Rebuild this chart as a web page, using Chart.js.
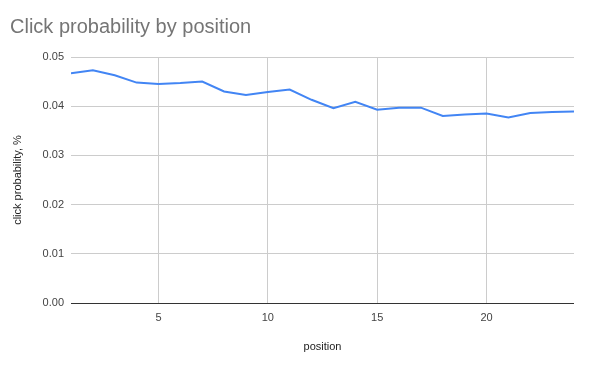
<!DOCTYPE html>
<html>
<head>
<meta charset="utf-8">
<script src="https://cdn.jsdelivr.net/npm/chart.js@4"></script>
<style>
  html, body { margin: 0; padding: 0; background: #fff; }
  #wrap { width: 591px; height: 368px; }
</style>
</head>
<body>
<div id="wrap"><canvas id="clickChart" width="591" height="368"></canvas></div>
<script>
  // data
  const positions = [1, 2, 3, 4, 5, 6, 7, 8, 9, 10, 11, 12, 13, 14, 15, 16, 17, 18, 19, 20, 21, 22, 23, 24];
  const clickProb = [
    0.0467, 0.0473, 0.0463, 0.0448, 0.0445, 0.0447, 0.0450, 0.0430, 0.0423, 0.0429, 0.0434, 0.0413,
    0.0396, 0.0409, 0.0393, 0.0397, 0.0397, 0.0380, 0.0383, 0.0385, 0.0377, 0.0386, 0.0388, 0.0389,
  ];
  const xTicks = [5, 10, 15, 20];
  const yTicks = [0, 0.01, 0.02, 0.03, 0.04, 0.05];

  const font = "'Liberation Sans', Arial, sans-serif";

  const data = {
    datasets: [{
      data: positions.map((p, i) => ({ x: p, y: clickProb[i] })),
      borderColor: "#4285F4",
      backgroundColor: "#4285F4",
      borderWidth: 2,
      pointRadius: 0,
      tension: 0,
      fill: false,
    }]
  };

  const config = {
    type: 'line',
    data,
    options: {
      responsive: false,
      animation: false,
      layout: { padding: { left: 10, right: 17, top: 0, bottom: 0 } },
      plugins: {
        legend: { display: false },
        tooltip: { enabled: false },
        title: {
          display: true,
          text: "Click probability by position",
          align: 'start',
          color: "#757575",
          font: { family: font, size: 20, weight: 'normal', lineHeight: 1.2 },
          padding: { top: 15, bottom: 18 },
        }
      },
      scales: {
        x: {
          type: 'linear',
          min: 1,
          max: 24,
          afterBuildTicks: (scale) => { scale.ticks = xTicks.map(v => ({ value: v })); },
          afterFit: (scale) => { scale.height = 65; },
          grid: { color: "#cccccc", drawTicks: false, lineWidth: 1 },
          border: { display: false },
          ticks: { color: "#444444", font: { family: font, size: 11 }, padding: 8, maxRotation: 0 },
          title: {
            display: true,
            text: "position",
            color: "#222222",
            font: { family: font, size: 11 },
            padding: { top: 4, bottom: 14 },
          }
        },
        y: {
          min: 0,
          max: 0.05,
          afterBuildTicks: (scale) => { scale.ticks = yTicks.map(v => ({ value: v })); },
          afterFit: (scale) => { scale.width = 61; },
          grid: {
            color: (ctx) => ctx.tick && ctx.tick.value === 0 ? "#333333" : "#cccccc",
            drawTicks: false,
            lineWidth: 1,
          },
          border: { display: false },
          ticks: {
            color: "#444444",
            font: { family: font, size: 11 },
            padding: 7,
            callback: (v) => v.toFixed(2),
          },
          title: {
            display: true,
            text: "click probability, %",
            color: "#222222",
            font: { family: font, size: 11 },
            padding: { top: 1, bottom: 6 },
          }
        }
      }
    }
  };

  const clickChart = new Chart(document.getElementById("clickChart").getContext("2d"), config);
</script>
</body>
</html>
